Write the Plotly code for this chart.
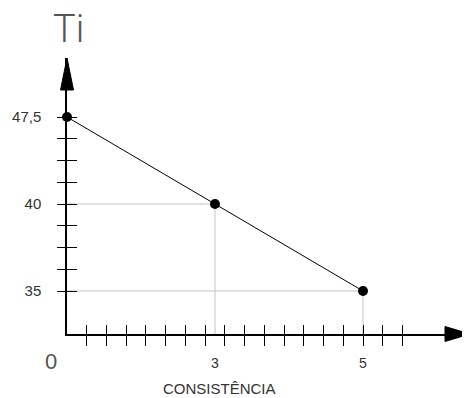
import plotly.graph_objects as go

# ---- data ----
consistencia = [0, 3, 5]          # x values (CONSISTÊNCIA)
ti_values = [47.5, 40, 35]        # y values (Ti)
x_title = "CONSISTÊNCIA"
y_title = "Ti"
origin_label = "0"

# category labels (decimal comma as in the drawing)
def fmt(v):
    return f"{v:g}".replace(".", ",")

x_cat = [fmt(v) for v in consistencia]
y_cat = [fmt(v) for v in ti_values]
y_order = [fmt(v) for v in sorted(ti_values)]

# ---- layout constants ----
W, H = 470, 398
OFF = 8                      # page body margin of the html page
AX_X, AX_Y = 67, 334         # window pixel position of the axes corner
TOP, RIGHT = 58, 470         # window pixel of arrow tips
ML = AX_X - OFF
MT = TOP - OFF
MR = W - (RIGHT - OFF)
MB = H - (AX_Y - OFF)
PW, PH = W - ML - MR, H - MT - MB
X_RANGE = [0, PW / 148.0]
Y_RANGE = [-(43 / 87.0), 2 + (59 / 87.0)]
X_DECO_STEP = 2 / 15.0
Y_DECO_STEP = 0.25
x_deco = [k * X_DECO_STEP for k in range(1, 18)]
y_deco = [k * Y_DECO_STEP for k in range(0, 9)]


def px(wx):
    return (wx - AX_X) / PW


def py(wy):
    return (AX_Y - wy) / PH


GUIDE = "#c4c4c4"
FONT = "Liberation Sans, Arial, sans-serif"

fig = go.Figure()
fig.add_trace(go.Scatter(
    x=x_cat, y=y_cat, mode="lines+markers",
    line=dict(color="black", width=1),
    marker=dict(color="black", size=10),
    cliponaxis=False, hoverinfo="skip",
))
# empty trace to attach decorative tick axes
fig.add_trace(go.Scatter(x=[None], y=[None], xaxis="x2", yaxis="y2",
                         mode="markers", hoverinfo="skip", showlegend=False))

shapes = []
for xc, yc in zip(x_cat[1:], y_cat[1:]):
    xi = x_cat.index(xc)
    yi = y_order.index(yc)
    shapes.append(dict(type="line", xref="x", yref="y", x0=X_RANGE[0], x1=xi,
                       y0=yi, y1=yi, line=dict(color=GUIDE, width=1), layer="below"))
    shapes.append(dict(type="line", xref="x", yref="y", x0=xi, x1=xi,
                       y0=Y_RANGE[0], y1=yi, line=dict(color=GUIDE, width=1), layer="below"))

# arrow heads (paper coordinates)
ya_base = py(90)
ya_hw = 6.5 / PW
shapes.append(dict(type="path", xref="paper", yref="paper",
                   path=f"M {-ya_hw} {ya_base} L {ya_hw} {ya_base} L 0 1 Z",
                   fillcolor="black", line=dict(color="black", width=1)))
xa_base = px(445)
xa_hh = 7.5 / PH
shapes.append(dict(type="path", xref="paper", yref="paper",
                   path=f"M {xa_base} {-xa_hh} L {xa_base} {xa_hh} L 1 0 Z",
                   fillcolor="black", line=dict(color="black", width=1)))

annotations = [
    dict(text=y_title, xref="paper", yref="paper", x=px(68), y=py(29),
         showarrow=False, xanchor="center", yanchor="middle",
         font=dict(family="Roboto, sans-serif", size=38, color="#555555", weight=300)),
    dict(text=origin_label, xref="paper", yref="paper", x=px(51), y=py(361),
         showarrow=False, xanchor="center", yanchor="middle",
         font=dict(family=FONT, size=22, color="#555555")),
    dict(text=x_title, xref="paper", yref="paper", x=px(219), y=py(388),
         showarrow=False, xanchor="center", yanchor="middle",
         font=dict(family=FONT, size=15, color="#333333")),
]

fig.update_layout(
    width=W, height=H,
    margin=dict(l=ML, r=MR, t=MT, b=MB, pad=0, autoexpand=False),
    plot_bgcolor="rgba(0,0,0,0)", paper_bgcolor="white",
    showlegend=False,
    xaxis=dict(type="category", categoryorder="array", categoryarray=x_cat,
               range=X_RANGE, showline=True, linecolor="black", linewidth=1.5,
               showgrid=False, zeroline=False, ticks="", automargin=False,
               tickvals=x_cat[1:], ticktext=x_cat[1:],
               tickfont=dict(family=FONT, size=14, color="#333333"),
               ticklabelstandoff=15, fixedrange=True),
    yaxis=dict(type="category", categoryorder="array", categoryarray=y_order,
               range=Y_RANGE, showline=True, linecolor="black", linewidth=1.5,
               showgrid=False, zeroline=False, ticks="", automargin=False,
               tickvals=y_order, ticktext=y_order,
               tickfont=dict(family=FONT, size=15, color="#333333"),
               ticklabelstandoff=21, fixedrange=True),
    xaxis2=dict(type="linear", overlaying="x", anchor="free", position=10 / PH,
                side="bottom", range=X_RANGE, showline=False, showgrid=False,
                zeroline=False, ticks="outside", ticklen=21, tickwidth=1.2,
                tickcolor="black", tickmode="array", tickvals=x_deco,
                showticklabels=False, fixedrange=True, automargin=False),
    yaxis2=dict(type="linear", overlaying="y", anchor="free", position=10 / PW,
                side="left", range=Y_RANGE, showline=False, showgrid=False,
                zeroline=False, ticks="outside", ticklen=20, tickwidth=1.2,
                tickcolor="black", tickmode="array", tickvals=y_deco,
                showticklabels=False, fixedrange=True, automargin=False),
    shapes=shapes,
    annotations=annotations,
)

fig.write_html("out.html")
